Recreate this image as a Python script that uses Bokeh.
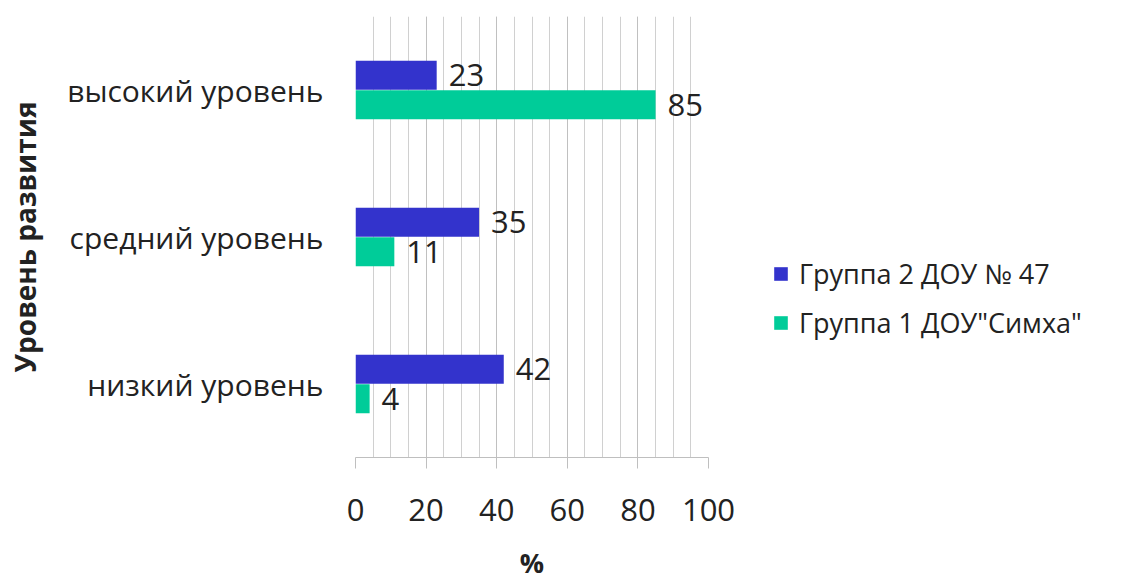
from bokeh.plotting import figure
from bokeh.layouts import row
from bokeh.models import (ColumnDataSource, FactorRange, LabelSet, Legend, LegendItem,
                          FixedTicker, Range1d)
from bokeh.core.properties import value
from bokeh.transform import dodge
from bokeh.embed import file_html
from bokeh.resources import INLINE

levels = ["низкий уровень", "средний уровень", "высокий уровень"]
group2 = [42, 35, 23]   # Группа 2 ДОУ № 47
group1 = [4, 11, 85]    # Группа 1 ДОУ"Симха"
series_names = ["Группа 2 ДОУ № 47", "Группа 1 ДОУ\"Симха\""]
x_ticks = [0, 20, 40, 60, 80, 100]

BLUE = "#3333CC"
GREEN = "#00CC99"
FONT = "Open Sans"
TXT = "#222222"

src = ColumnDataSource(dict(
    level=levels, g2=group2, g1=group1,
    g2_lbl=[str(v) for v in group2], g1_lbl=[str(v) for v in group1],
))

p = figure(frame_width=353, frame_height=441, y_range=FactorRange(*levels, range_padding=0),
           x_range=Range1d(0, 100), output_backend="svg", toolbar_location=None,
           min_border_left=355, min_border_right=52, min_border_top=16,
           min_border_bottom=122)
p.outline_line_color = None

bar_h = 0.197
p.hbar(y=dodge("level", 0.1, range=p.y_range), right="g2", left=0, height=bar_h,
       source=src, fill_color=BLUE, line_color=None)
p.hbar(y=dodge("level", -0.1, range=p.y_range), right="g1", left=0, height=bar_h,
       source=src, fill_color=GREEN, line_color=None)

for col, off in (("g2", 0.1), ("g1", -0.1)):
    p.add_layout(LabelSet(x=col, y=dodge("level", off, range=p.y_range), text=col + "_lbl",
                          source=src, x_offset=12, text_baseline="middle",
                          text_font=value(FONT), text_font_size="31px", text_color=TXT))

# x axis
p.xaxis.ticker = FixedTicker(ticks=x_ticks, minor_ticks=list(range(0, 101, 5)))
p.xaxis.axis_line_color = "#bfbfbf"
p.xaxis.major_tick_line_color = "#bfbfbf"
p.xaxis.major_tick_out = 11
p.xaxis.major_tick_in = 0
p.xaxis.minor_tick_line_color = None
p.xaxis.major_label_text_font = FONT
p.xaxis.major_label_text_font_size = "31px"
p.xaxis.major_label_text_color = TXT
p.xaxis.major_label_standoff = 30
p.xaxis.axis_label = "%"
p.xaxis.axis_label_text_font = FONT
p.xaxis.axis_label_text_font_size = "27px"
p.xaxis.axis_label_text_font_style = "bold"
p.xaxis.axis_label_text_color = TXT
p.xaxis.axis_label_standoff = 20

p.xgrid.grid_line_color = "#c0c0c0"
p.xgrid.minor_grid_line_color = "#d0d0d0"
p.ygrid.grid_line_color = None

# y axis
p.yaxis.axis_line_color = None
p.yaxis.major_tick_line_color = None
p.yaxis.minor_tick_line_color = None
p.yaxis.major_label_text_font = FONT
p.yaxis.major_label_text_font_size = "30px"
p.yaxis.major_label_text_color = TXT
p.yaxis.major_label_standoff = 26
p.yaxis.axis_label = "Уровень развития"
p.yaxis.axis_label_text_font = FONT
p.yaxis.axis_label_text_font_size = "28px"
p.yaxis.axis_label_text_font_style = "bold"
p.yaxis.axis_label_text_color = TXT
p.yaxis.axis_label_standoff = 20

# legend panel to the right of the chart; its bars have zero size and only feed the legend
lg = figure(width=367, height=579, output_backend="svg", toolbar_location=None,
            x_range=Range1d(0, 1), y_range=Range1d(0, 1), min_border=0)
lg.axis.visible = False
lg.grid.visible = False
lg.outline_line_color = None
k2 = lg.hbar(y=[5], left=[5], right=[5], height=0, fill_color=BLUE, line_color=None)
k1 = lg.hbar(y=[5], left=[5], right=[5], height=0, fill_color=GREEN, line_color=None)
legend = Legend(items=[LegendItem(label=series_names[0], renderers=[k2]),
                       LegendItem(label=series_names[1], renderers=[k1])],
                location=(12, 112), border_line_color=None, background_fill_alpha=0,
                label_text_font=FONT, label_text_font_size="27px", label_text_color=TXT,
                glyph_width=17, glyph_height=17, label_standoff=10, spacing=12,
                padding=0, margin=0)
lg.add_layout(legend, "center")

open("out.html", "w").write(file_html(row(p, lg), INLINE))
